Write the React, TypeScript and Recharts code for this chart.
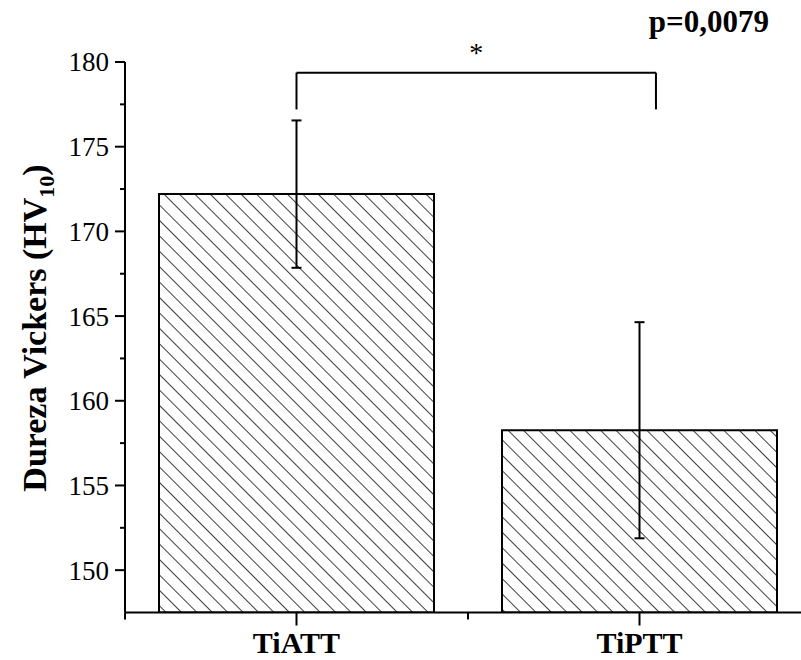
import { BarChart, Bar, XAxis, YAxis, ErrorBar, ReferenceLine } from "recharts";

const categories = ["TiATT", "TiPTT"];
const positions = [0, 1];
const hardness = [172.2, 158.26];
const hardnessErr = [4.35, 6.38];
const yTicks = [150, 152.5, 155, 157.5, 160, 162.5, 165, 167.5, 170, 172.5, 175, 177.5, 180];
const xTicks = [-0.5, 0, 0.5, 1, 1.5];

// significance bracket (x in axis units, y in hardness units)
const bracketX = [0, 1.048];
const bracketTop = 179.37;
const bracketLegBottom = 177.2;
const pValue = "p=0,0079";

const chartData = categories.map((name, i) => ({
  name,
  pos: positions[i],
  value: hardness[i],
  err: hardnessErr[i],
}));

const FONT = "'Liberation Serif', 'Times New Roman', serif";
const AXIS_X = 125;
const AXIS_Y = 612.5;

const YTick = (props: any) => {
  const { y, payload } = props;
  const v = payload.value;
  const major = v % 5 === 0;
  return (
    <g>
      <line x1={AXIS_X - (major ? 10 : 5)} x2={AXIS_X} y1={y} y2={y} stroke="#000" strokeWidth={2} />
      {major && (
        <text x={AXIS_X - 16} y={y} dy="0.35em" textAnchor="end" fontFamily={FONT} fontSize={27} fill="#000">
          {v}
        </text>
      )}
    </g>
  );
};

const XTick = (props: any) => {
  const { x, payload } = props;
  const idx = positions.indexOf(payload.value);
  const major = idx >= 0;
  return (
    <g>
      <line x1={x} x2={x} y1={AXIS_Y} y2={AXIS_Y + (major ? 13 : 7)} stroke="#000" strokeWidth={2} />
      {major && (
        <text x={x} y={653} textAnchor="middle" fontFamily={FONT} fontSize={30} fontWeight="bold" fill="#000">
          {categories[idx]}
        </text>
      )}
    </g>
  );
};

const YLabel = () => (
  <text transform="translate(46, 328) rotate(-90)" textAnchor="middle" fontFamily={FONT} fontSize={34} fontWeight="bold" fill="#000">
    Dureza Vickers (HV
    <tspan fontSize={22} dy={8}>10</tspan>
    <tspan dy={-8}>)</tspan>
  </text>
);

const App = () => {
  return (
    <div style={{ position: "fixed", left: 0, top: 0, width: 801, height: 660, overflow: "hidden", background: "#fff" }}>
      <BarChart width={820} height={660} data={chartData} margin={{ top: 62, right: 9, left: 0, bottom: 0 }}>
        <defs>
          <pattern id="hatch" patternUnits="userSpaceOnUse" width={10.9} height={10.9} patternTransform="rotate(-45)">
            <line x1={0} y1={0} x2={0} y2={10.9} stroke="#000" strokeWidth={1.5} />
          </pattern>
        </defs>
        <XAxis
          dataKey="pos"
          type="number"
          domain={[-0.5, 1.5]}
          ticks={xTicks}
          interval={0}
          allowDataOverflow
          height={47.5}
          axisLine={{ stroke: "#000", strokeWidth: 2 }}
          tickLine={false}
          tick={<XTick />}
        />
        <YAxis
          width={125}
          domain={[147.5, 180]}
          ticks={yTicks}
          interval={0}
          allowDataOverflow
          axisLine={{ stroke: "#000", strokeWidth: 2 }}
          tickLine={false}
          tick={<YTick />}
          label={<YLabel />}
        />
        <Bar dataKey="value" fill="url(#hatch)" stroke="#000" strokeWidth={2} barSize={275} isAnimationActive={false}>
          <ErrorBar dataKey="err" width={5} stroke="#000" strokeWidth={2} direction="y" isAnimationActive={false} />
        </Bar>
        <ReferenceLine
          segment={[{ x: bracketX[0], y: bracketLegBottom }, { x: bracketX[0], y: bracketTop }]}
          stroke="#000"
          strokeWidth={2}
          ifOverflow="visible"
        />
        <ReferenceLine
          segment={[{ x: bracketX[1], y: bracketLegBottom }, { x: bracketX[1], y: bracketTop }]}
          stroke="#000"
          strokeWidth={2}
          ifOverflow="visible"
        />
        <ReferenceLine
          segment={[{ x: bracketX[0], y: bracketTop }, { x: bracketX[1], y: bracketTop }]}
          stroke="#000"
          strokeWidth={2}
          ifOverflow="visible"
          label={{ value: "*", position: "top", offset: 11, fontSize: 28, fill: "#000", fontFamily: FONT }}
        />
      </BarChart>
      <svg width={801} height={60} style={{ position: "absolute", left: 0, top: 0 }}>
        <text x={769} y={32} textAnchor="end" fontFamily={FONT} fontSize={31} fontWeight="bold" fill="#000">
          {pValue}
        </text>
      </svg>
    </div>
  );
};

export default App;
